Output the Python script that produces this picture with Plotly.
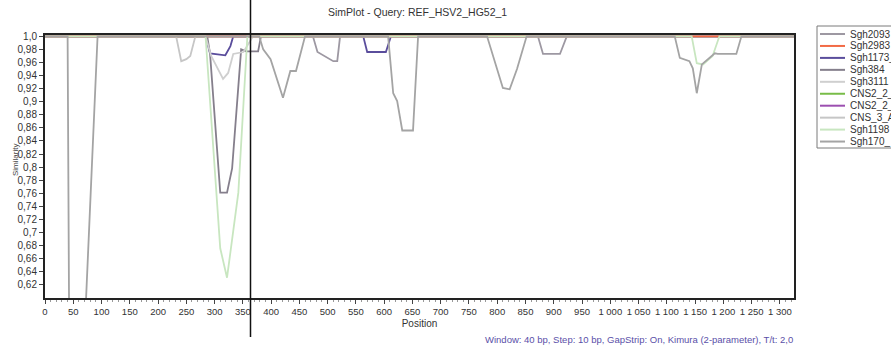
import plotly.graph_objects as go

# Similarity profiles (position in bp, similarity) for each sequence vs. the query
sgh2093_pos = [0, 474, 482, 510, 517, 522, 872, 881, 911, 923, 1325]
sgh2093_sim = [1.0, 1.0, 0.976, 0.962, 0.962, 1.0, 1.0, 0.973, 0.973, 1.0, 1.0]

sgh2983_pos = [0, 1325]
sgh2983_sim = [1.0, 1.0]

sgh1173_pos = [0, 284, 292, 319, 328, 333, 563, 570, 603, 612, 1325]
sgh1173_sim = [1.0, 1.0, 0.974, 0.971, 0.985, 1.0, 1.0, 0.976, 0.976, 1.0, 1.0]

sgh384_pos = [0, 287, 292, 310, 322, 331, 347, 356, 377, 382, 1325]
sgh384_sim = [1.0, 1.0, 0.973, 0.761, 0.761, 0.798, 0.980, 0.977, 0.977, 1.0, 1.0]

sgh3111_pos = [0, 284, 294, 308, 315, 324, 333, 351, 368, 1325]
sgh3111_sim = [1.0, 1.0, 0.970, 0.947, 0.935, 0.944, 0.973, 0.976, 1.0, 1.0]

cns2_a_pos = [0, 1325]
cns2_a_sim = [1.0, 1.0]

cns2_b_pos = [0, 1325]
cns2_b_sim = [1.0, 1.0]

cns3_pos = [0, 232, 241, 250, 257, 266, 1325]
cns3_sim = [1.0, 1.0, 0.962, 0.965, 0.970, 1.0, 1.0]

sgh1198_pos = [0, 284, 310, 322, 342, 358, 1144, 1153, 1164, 1181, 1193, 1325]
sgh1198_sim = [1.0, 1.0, 0.676, 0.631, 0.761, 1.0, 1.0, 0.959, 0.957, 0.970, 1.0, 1.0]

sgh170_pos = [0, 40, 44, 60, 93, 379, 386, 399, 421, 434, 444, 460,
              607, 616, 623, 632, 651, 660, 782, 810, 822, 835, 852,
              1114, 1123, 1140, 1146, 1153, 1162, 1176, 1185, 1190, 1223, 1232, 1325]
sgh170_sim = [1.0, 1.0, 0.35, 0.35, 1.0, 1.0, 0.98, 0.965, 0.906, 0.947, 0.947, 1.0,
              1.0, 0.913, 0.901, 0.856, 0.856, 1.0, 1.0, 0.921, 0.919, 0.95, 1.0,
              1.0, 0.967, 0.962, 0.951, 0.913, 0.957, 0.967, 0.974, 0.973, 0.973, 1.0, 1.0]

# Legend order: (label, colour, positions, similarities)
series = [
    ("Sgh2093", "#9d98a2", sgh2093_pos, sgh2093_sim),
    ("Sgh2983", "#f26a45", sgh2983_pos, sgh2983_sim),
    ("Sgh1173_", "#5a4d9c", sgh1173_pos, sgh1173_sim),
    ("Sgh384", "#857f8c", sgh384_pos, sgh384_sim),
    ("Sgh3111", "#cfcfcf", sgh3111_pos, sgh3111_sim),
    ("CNS2_2_", "#78bc48", cns2_a_pos, cns2_a_sim),
    ("CNS2_2_", "#9c4fb0", cns2_b_pos, cns2_b_sim),
    ("CNS_3_A", "#c6c6c6", cns3_pos, cns3_sim),
    ("Sgh1198", "#c8e6c0", sgh1198_pos, sgh1198_sim),
    ("Sgh170_", "#a4a4a4", sgh170_pos, sgh170_sim),
]
# Painting order (last drawn sits on top where curves coincide at 1,0)
draw_order = [0, 2, 3, 4, 5, 6, 7, 1, 8, 9]

x_ticks = list(range(0, 1301, 50))
x_tick_text = [f"{v:,}".replace(",", " ") for v in x_ticks]
y_ticks = [round(0.62 + 0.02 * i, 2) for i in range(20)]


def fmt_sim(v):
    if v == 1.0:
        return "1,0"
    s = f"{v:.2f}"
    if s.endswith("0"):
        s = s[:-1]
    return s.replace(".", ",")


y_tick_text = [fmt_sim(v) for v in y_ticks]

title_text = "SimPlot - Query: REF_HSV2_HG52_1"
footer_text = "Window: 40 bp, Step: 10 bp, GapStrip: On, Kimura (2-parameter), T/t: 2,0"

FONT = "Arial, 'Liberation Sans', sans-serif"
W, H = 891, 349
L, R, T, B = 45, 97, 35, 51
PW, PH = W - L - R, H - T - B


def px_to_paper_x(px):
    return (px - L) / PW


def py_to_paper_y(py):
    return (H - B - py) / PH


fig = go.Figure()
for i in draw_order:
    name, color, xs, ys = series[i]
    fig.add_trace(go.Scatter(
        x=xs, y=ys, mode="lines", name=name,
        line=dict(color=color, width=1.8),
        showlegend=False, hoverinfo="skip",
    ))

fig.update_layout(
    width=W, height=H,
    margin=dict(l=L, r=R, t=T, b=B, pad=0),
    paper_bgcolor="white", plot_bgcolor="white",
    font=dict(family=FONT, color="#333333"),
    showlegend=False,
)

fig.update_xaxes(
    range=[0, 1325], showgrid=False, zeroline=False,
    tickvals=x_ticks, ticktext=x_tick_text, tickfont=dict(size=9.5, color="#333333"),
    ticks="outside", ticklen=4, tickcolor="#444444", tickwidth=1,
    minor=dict(dtick=10, ticks="outside", ticklen=2, tickcolor="#999999"),
    showline=True, linecolor="#222222", linewidth=2, mirror=True,
    title=dict(text="Position", font=dict(size=10, color="#333333"), standoff=4),
)
fig.update_yaxes(
    range=[0.6, 1.002], showgrid=False, zeroline=False,
    tickvals=y_ticks, ticktext=y_tick_text, tickfont=dict(size=10, color="#333333"),
    ticks="outside", ticklen=4, tickcolor="#444444", tickwidth=1,
    showline=True, linecolor="#222222", linewidth=2, mirror=True,
    title=None,
)

annotations = [
    dict(text=title_text, x=px_to_paper_x(417), y=py_to_paper_y(12), xref="paper", yref="paper",
         showarrow=False, font=dict(size=10.5, color="#333333"), xanchor="center", yanchor="middle"),
    dict(text=footer_text, x=px_to_paper_x(795), y=py_to_paper_y(339), xref="paper", yref="paper",
         showarrow=False, font=dict(size=9.5, color="#5a4fa8"), xanchor="right", yanchor="middle"),
    dict(text="Similarity", x=px_to_paper_x(15), y=py_to_paper_y(160), xref="paper", yref="paper",
         showarrow=False, textangle=-90, font=dict(size=8, color="#444444"),
         xanchor="center", yanchor="middle"),
]

shapes = [
    # legend frame
    dict(type="rect", xref="paper", yref="paper",
         x0=px_to_paper_x(817), x1=px_to_paper_x(905),
         y0=py_to_paper_y(148), y1=py_to_paper_y(26),
         line=dict(color="#7a7a7a", width=1), fillcolor="white", layer="above"),
    # vertical marker line
    dict(type="line", xref="paper", yref="paper",
         x0=px_to_paper_x(250.5), x1=px_to_paper_x(250.5),
         y0=py_to_paper_y(0), y1=py_to_paper_y(337),
         line=dict(color="#111111", width=1.5), layer="above"),
]

row0, row_step = 34.0, 11.95
for k, (name, color, _, _) in enumerate(series):
    ry = row0 + k * row_step
    shapes.append(dict(type="line", xref="paper", yref="paper",
                       x0=px_to_paper_x(820), x1=px_to_paper_x(845),
                       y0=py_to_paper_y(ry), y1=py_to_paper_y(ry),
                       line=dict(color=color, width=2), layer="above"))
    annotations.append(dict(text=name, x=px_to_paper_x(848), y=py_to_paper_y(ry),
                            xref="paper", yref="paper", showarrow=False,
                            xanchor="left", yanchor="middle",
                            font=dict(size=10, color="#333333")))

fig.update_layout(annotations=annotations, shapes=shapes)

fig.write_html("out.html")
